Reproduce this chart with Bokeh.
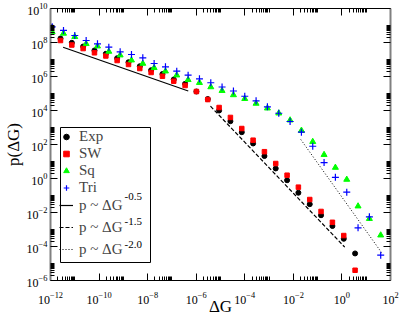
from bokeh.plotting import figure
from bokeh.models import (Range1d, LogAxis, FixedTicker, CustomJSTickFormatter,
                          Legend, LegendItem, BoxAnnotation, Label)
from bokeh.embed import file_html
from bokeh.resources import INLINE

# ---- data ----
x_exp = [1.1e-12, 2.58e-12, 7.55e-12, 2.21e-11, 6.47e-11, 1.90e-10, 5.55e-10, 1.63e-9, 4.75e-9,
         1.39e-8, 4.07e-8, 1.19e-7, 3.49e-7, 1.02e-6, 2.99e-6, 8.77e-6, 2.56e-5, 7.52e-5,
         2.20e-4, 6.44e-4, 1.88e-3, 5.52e-3, 1.61e-2, 4.73e-2, 0.138, 0.406, 1.19, 3.48]
y_exp = [8.1e8, 1.72e8, 9.6e7, 5.8e7, 3.4e7, 2.16e7, 1.19e7, 6.9e6, 4.0e6, 2.34e6, 1.40e6,
         6.7e5, 3.7e5, 1.31e5, 4.7e4, 1.0e4, 2.35e3, 530, 115, 21, 3.9, 0.79, 0.145, 0.031,
         6.9e-3, 1.6e-3, 2.84e-4, 3.9e-5]

x_sw = [2.58e-12, 7.55e-12, 2.21e-11, 6.47e-11, 1.90e-10, 5.55e-10, 1.63e-9, 4.75e-9,
        1.39e-8, 4.07e-8, 1.19e-7, 3.49e-7, 1.02e-6, 2.99e-6, 8.77e-6, 2.56e-5, 7.52e-5,
        2.20e-4, 6.44e-4, 1.88e-3, 5.52e-3, 1.61e-2, 4.73e-2, 0.138, 0.406, 1.19, 3.48]
y_sw = [1.31e8, 7.1e7, 4.4e7, 2.48e7, 1.61e7, 8.7e6, 5.1e6, 2.95e6, 1.72e6, 1.04e6, 5.3e5,
        2.95e5, 1.31e5, 4.4e4, 1.5e4, 3.9e3, 870, 179, 37.7, 7.6, 1.56, 0.31, 0.058, 0.0115,
        2.65e-3, 4.4e-4, 4.0e-6]

x_lat = [1.17e-12, 3.43e-12, 1.00e-11, 2.94e-11, 8.61e-11, 2.52e-10, 7.38e-10, 2.16e-9,
         6.32e-9, 1.85e-8, 5.42e-8, 1.58e-7, 4.64e-7, 1.36e-6, 3.98e-6, 1.16e-5, 3.41e-5,
         9.98e-5, 2.92e-4, 8.55e-4, 2.51e-3, 7.33e-3, 2.15e-2, 6.28e-2, 0.184, 0.538, 1.58,
         4.61, 13.5, 39.5]
y_sq = [4.26e8, 3.4e8, 2.16e8, 8.4e7, 6.05e7, 2.95e7, 1.79e7, 9.1e6, 5.8e6, 3.25e6, 2.05e6,
        1.19e6, 6.4e5, 4.3e5, 2.41e5, 1.46e5, 8.2e4, 4.9e4, 2.58e4, 1.36e4, 6.9e3, 2.69e3,
        667, 146, 25, 4.4, 0.87, 0.0235, 4.3e-3, 4.6e-4]
y_tri = [8.4e8, 5.1e8, 2.58e8, 1.31e8, 8.4e7, 5.3e7, 2.84e7, 1.97e7, 1.26e7, 5.8e6, 3.7e6,
         2.05e6, 1.19e6, 7.3e5, 4.3e5, 2.41e5, 1.40e5, 6.9e4, 3.7e4, 1.65e4, 6.9e3, 2.25e3,
         530, 79, 8.7, 1.18, 0.156, 1.26e-3, 5.6e-3, 3.1e-5]

# guide lines (end points)
fit05_x = [3.3e-12, 4.7e-7]
fit05_y = [5.25e7, 1.4e5]
fit15_x = [3.86e-6, 1.31]
fit15_y = [1.79e4, 9.1e-5]
fit20_x = [0.0202, 42.4]
fit20_y = [197, 4.47e-5]

series_labels = ["Exp", "SW", "Sq", "Tri"]
fit_exponents = ["-0.5", "-1.5", "-2.0"]

x_major = [10.0 ** k for k in range(-12, 3, 2)]
x_minor = [m * 10.0 ** k for k in range(-12, 2, 2) for m in range(2, 11)]
y_major = [10.0 ** k for k in range(-6, 11, 2)]
y_minor = [m * 10.0 ** k for k in range(-6, 10, 2) for m in range(2, 11)]

SERIF = "Liberation Serif"

p = figure(frame_width=340, frame_height=272,
           x_axis_type="log", y_axis_type="log",
           x_range=Range1d(1e-12, 1e2), y_range=Range1d(1e-6, 1e10),
           output_backend="svg", toolbar_location=None,
           x_axis_label="ΔG", y_axis_label="p(ΔG)",
           min_border_left=39, min_border_right=13, min_border_top=8, min_border_bottom=30)
p.grid.visible = False
p.outline_line_color = None
p.background_fill_color = "white"

def style_axis(ax, ticks, minors, vertical):
    ax.ticker = FixedTicker(ticks=ticks, minor_ticks=minors)
    ax.major_tick_in = 7
    ax.major_tick_out = 0
    ax.minor_tick_in = 4
    ax.minor_tick_out = 0
    ax.major_tick_line_color = "black"
    ax.minor_tick_line_color = "black"
    if vertical:
        ax.axis_line_color = "#808080"
        ax.axis_line_width = 2
    else:
        ax.axis_line_color = "black"
        ax.axis_line_width = 1
    ax.major_label_text_font = SERIF
    ax.major_label_text_font_size = "12px"
    ax.major_label_text_color = "black"
    ax.axis_label_text_font = SERIF
    ax.axis_label_text_font_size = "17px"
    ax.axis_label_text_font_style = "normal"
    ax.axis_label_text_color = "black"

style_axis(p.xaxis[0], x_major, x_minor, False)
style_axis(p.yaxis[0], y_major, y_minor, True)
p.xaxis[0].major_label_standoff = 11
p.xaxis[0].axis_label_standoff = -10
p.yaxis[0].major_label_standoff = 3
p.yaxis[0].axis_label_standoff = 1

top_ax = LogAxis(formatter=CustomJSTickFormatter(code="return ''"))
style_axis(top_ax, x_major, x_minor, False)
top_ax.major_label_standoff = 0
right_ax = LogAxis(formatter=CustomJSTickFormatter(code="return ''"))
style_axis(right_ax, y_major, y_minor, True)
right_ax.major_label_standoff = 0
p.add_layout(top_ax, "above")
p.add_layout(right_ax, "right")

# guide lines
l05 = p.line(fit05_x, fit05_y, line_color="black", line_width=1.2)
l15 = p.line(fit15_x, fit15_y, line_color="black", line_width=1.2, line_dash="4 2")
l20 = p.line(fit20_x, fit20_y, line_color="black", line_width=1, line_dash="1 2")

# data
r_exp = p.scatter(x_exp, y_exp, marker="circle", size=5, fill_color="black", line_color="black")
r_sw = p.scatter(x_sw, y_sw, marker="square", size=4.5, fill_color="#ff0000", line_color="#ff0000")
r_sq = p.scatter(x_lat, y_sq, marker="triangle", size=6, fill_color="#00ff00", line_color="#00ff00")
r_tri = p.scatter(x_lat, y_tri, marker="cross", size=7, line_color="#0000ff", line_width=1.2)

# legend frame
box = BoxAnnotation(left=10, right=100, bottom=18, top=153,
                    left_units="screen", right_units="screen",
                    bottom_units="screen", top_units="screen",
                    fill_color="white", fill_alpha=1.0,
                    line_color="black", line_width=1, line_alpha=1.0)
p.add_layout(box)

leg1 = Legend(items=[LegendItem(label=series_labels[0], renderers=[r_exp]),
                     LegendItem(label=series_labels[1], renderers=[r_sw]),
                     LegendItem(label=series_labels[2], renderers=[r_sq]),
                     LegendItem(label=series_labels[3], renderers=[r_tri])],
              location=(9, 84), padding=0, margin=0, spacing=0,
              glyph_width=14, glyph_height=15, label_height=15, label_standoff=6,
              label_text_font=SERIF, label_text_font_size="15px",
              border_line_color=None, background_fill_alpha=0)
leg2 = Legend(items=[LegendItem(label="p ~ ΔG", renderers=[l05]),
                     LegendItem(label="p ~ ΔG", renderers=[l15]),
                     LegendItem(label="p ~ ΔG", renderers=[l20])],
              location=(9, 20), padding=0, margin=0, spacing=0,
              glyph_width=14, glyph_height=22, label_height=22, label_standoff=6,
              label_text_font=SERIF, label_text_font_size="15px",
              label_text_baseline="top",
              border_line_color=None, background_fill_alpha=0)
p.add_layout(leg1)
p.add_layout(leg2)

for ex, ytop in zip(fit_exponents, [88, 63, 40]):
    p.add_layout(Label(x=74, y=ytop, x_units="screen", y_units="screen", text=ex,
                       text_font=SERIF, text_font_size="11px", text_baseline="top",
                       text_color="black"))

open("out.html", "w").write(file_html(p, INLINE))
